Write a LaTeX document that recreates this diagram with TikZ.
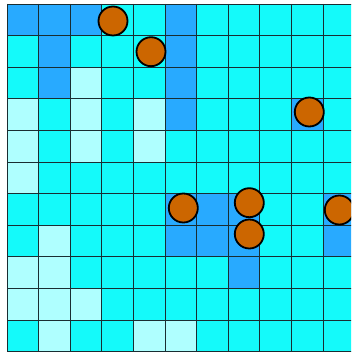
\documentclass[tikz,border=0pt]{standalone}
\definecolor{colB}{RGB}{40,170,255}
\definecolor{colC}{RGB}{20,250,250}
\definecolor{colL}{RGB}{175,255,255}
\definecolor{particlefill}{RGB}{204,102,0}
\definecolor{gridcol}{RGB}{25,45,50}
\tikzset{
  gridline/.style={draw=gridcol, line width=0.9pt},
  particle/.style={circle, fill=particlefill, draw=black, line width=1.8pt, minimum size=29pt, inner sep=0pt}
}
\begin{document}
\begin{tikzpicture}[x=1pt,y=-1pt]
\useasboundingbox (0,0) rectangle (351,352);
\clip (0,0) rectangle (351,352);
\fill[white] (0,0) rectangle (351,352);
\def\cs{31.6}
\foreach \row [count=\r from 0] in {
  {B,B,B,C,C,B,C,C,C,C,C},
  {C,B,C,C,C,B,C,C,C,C,C},
  {C,B,L,C,C,B,C,C,C,C,C},
  {L,C,L,C,L,B,C,C,C,B,C},
  {L,C,L,C,L,C,C,C,C,C,C},
  {L,C,C,C,C,C,C,C,C,C,C},
  {C,C,C,C,C,B,B,B,C,C,B},
  {C,L,C,C,C,B,B,B,C,C,B},
  {L,L,C,C,C,C,C,B,C,C,C},
  {L,L,L,C,C,C,C,C,C,C,C},
  {C,L,C,C,L,L,C,C,C,C,C}} {
  \foreach \c [count=\i from 0] in \row {
    \fill[fill=col\c] (7+\i*\cs, 4+\r*\cs) rectangle (7+\i*\cs+\cs, 4+\r*\cs+\cs);
  }
}
\foreach \k in {0,...,11} {
  \draw[gridline] (7+\k*\cs, 4) -- (7+\k*\cs, 351.6);
  \draw[gridline] (7, 4+\k*\cs) -- (355, 4+\k*\cs);
}
\node[particle] (p1) at (113,21) {};
\node[particle] (p2) at (151,51.7) {};
\node[particle] (p3) at (309.3,112) {};
\node[particle] (p4) at (183.3,208) {};
\node[particle] (p5) at (249.3,202.7) {};
\node[particle] (p6) at (249.3,234) {};
\node[particle] (p7) at (339.3,210) {};
\end{tikzpicture}
\end{document}
